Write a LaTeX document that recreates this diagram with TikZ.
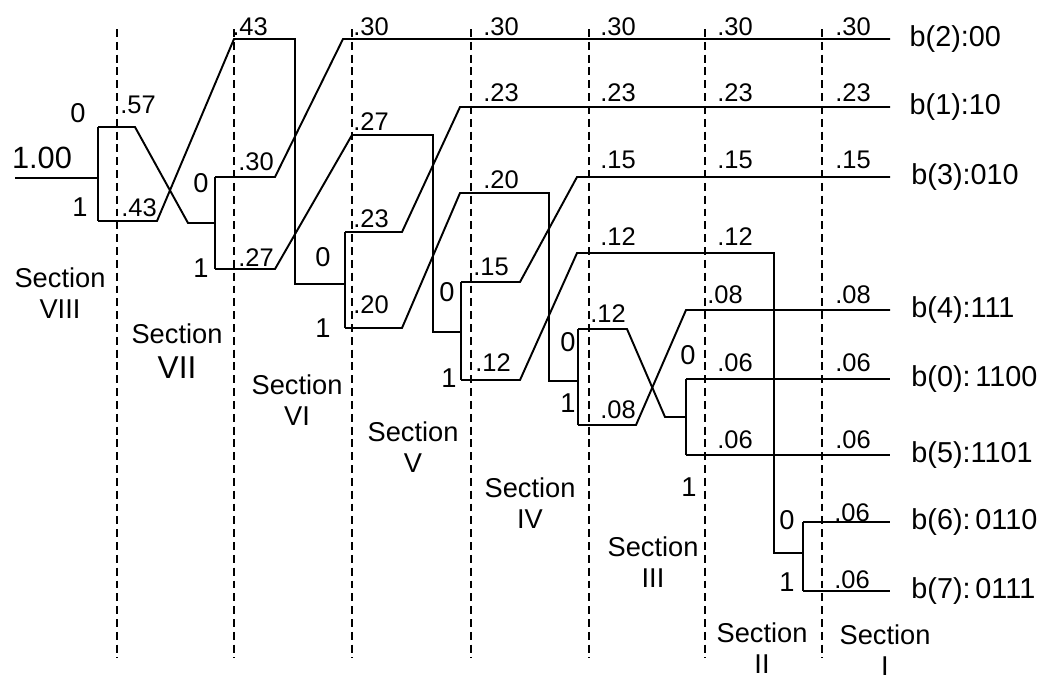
\documentclass[tikz,border=0pt]{standalone}
\usepackage{fontspec}
\setmainfont{Liberation Sans}
\usetikzlibrary{positioning}

\begin{document}
\begin{tikzpicture}[
    x=0.02cm, y=-0.02cm,
    tree/.style={line width=1.1pt, line join=miter},
    sect/.style={line width=0.8pt, dash pattern=on 4.5pt off 2.8pt},
    val/.style={anchor=west, inner sep=0pt, font=\fontsize{14.5}{16}\selectfont},
    bit/.style={inner sep=0pt, font=\fontsize{15.5}{17}\selectfont},
    code/.style={inner sep=0pt, font=\fontsize{16.4}{18}\selectfont},
    secname/.style={align=center, inner sep=0pt, font=\fontsize{15.5}{17.5}\selectfont}
]
\useasboundingbox (0,0) rectangle (1050,684);

% section borders
\foreach \x in {117,234,352,471,589,705,822}
    \draw[sect] (\x,29) -- (\x,658);

% junctions
\coordinate (in) at (15,178);
\coordinate (j8) at (98,178);  \coordinate (j8u) at (98,127);  \coordinate (j8d) at (98,221);
\coordinate (ja) at (215,223); \coordinate (jau) at (215,177); \coordinate (jad) at (215,269);
\coordinate (jb) at (345,284); \coordinate (jbu) at (345,232); \coordinate (jbd) at (345,328);
\coordinate (jd) at (461,332); \coordinate (jdu) at (461,282); \coordinate (jdd) at (461,380);
\coordinate (je) at (578,381); \coordinate (jeu) at (578,329); \coordinate (jed) at (578,425);
\coordinate (jf) at (686,417); \coordinate (jfu) at (686,379); \coordinate (jfd) at (686,455);
\coordinate (jg) at (803,553); \coordinate (jgu) at (803,522); \coordinate (jgd) at (803,591);

% outputs
\coordinate (o2) at (890,39);
\coordinate (o1) at (890,107);
\coordinate (o3) at (890,177);
\coordinate (o4) at (890,310);
\coordinate (o0) at (890,379);
\coordinate (o5) at (890,455);
\coordinate (o6) at (890,522);
\coordinate (o7) at (890,591);

% Section VIII
\draw[tree] (in) -- (j8);
\draw[tree] (j8u) -- (j8d);
\draw[tree] (j8u) -- (135,127) -- (188,223) -- (ja);
\draw[tree] (j8d) -- (157,221) -- (234,39) -- (295,39) -- (295,284) -- (jb);
% Section VII
\draw[tree] (jau) -- (jad);
\draw[tree] (jau) -- (275,177) -- (343,39) -- (o2);
\draw[tree] (jad) -- (275,269) -- (352,135) -- (433,135) -- (433,332) -- (jd);
% Section VI
\draw[tree] (jbu) -- (jbd);
\draw[tree] (jbu) -- (402,232) -- (460,107) -- (o1);
\draw[tree] (jbd) -- (402,328) -- (460,193) -- (549,193) -- (549,381) -- (je);
% Section V
\draw[tree] (jdu) -- (jdd);
\draw[tree] (jdu) -- (520,282) -- (577,177) -- (o3);
\draw[tree] (jdd) -- (520,380) -- (577,253) -- (774,253) -- (774,553) -- (jg);
% Section IV
\draw[tree] (jeu) -- (jed);
\draw[tree] (jeu) -- (627,329) -- (665,417) -- (jf);
\draw[tree] (jed) -- (636,425) -- (686,310) -- (o4);
% Section III
\draw[tree] (jfu) -- (jfd);
\draw[tree] (jfu) -- (o0);
\draw[tree] (jfd) -- (o5);
% Section II
\draw[tree] (jgu) -- (jgd);
\draw[tree] (jgu) -- (o6);
\draw[tree] (jgd) -- (o7);

% probabilities
\node[inner sep=0pt, font=\fontsize{17.5}{19}\selectfont] (total) at (42,158) {1.00};
\foreach \x/\y/\t [count=\i] in {
    120/105/.57, 121/208/.43,
    232/27/.43, 238/162/.30, 238/258/.27,
    353/27/.30, 353/122/.27, 353/219/.23, 353/305/.20,
    483/27/.30, 483/93/.23, 483/180/.20, 473/267/.15, 475/363/.12,
    600/27/.30, 600/93/.23, 600/160/.15, 600/237/.12, 590/314/.12, 600/410/.08,
    717/27/.30, 717/93/.23, 717/160/.15, 717/237/.12, 707/295/.08, 717/363/.06, 717/440/.06,
    835/27/.30, 835/93/.23, 835/160/.15, 835/295/.08, 835/363/.06, 835/440/.06, 834/513/.06, 834/580/.06}
    \node[val] (p\i) at (\x,\y) {\t};

% branch bits
\foreach \x/\y/\t [count=\i] in {
    78/113/0, 80/207/1, 201/183/0, 201/268/1, 323/257/0, 323/328/1,
    447/292/0, 449/378/1, 568/342/0, 568/403/1, 688/355/0, 689/487/1,
    787/520/0, 787/582/1}
    \node[bit] (bit\i) at (\x,\y) {\t};

% codewords
\node[code, right=11pt of o2] (c2) {b(2):00};
\node[code, right=11pt of o1] (c1) {b(1):10};
\node[code, right=12pt of o3] (c3) {b(3):010};
\node[code, right=12pt of o4] (c4) {b(4):111};
\node[code, right=12pt of o0] (c0) {b(0):\,1100};
\node[code, right=12pt of o5] (c5) {b(5):1101};
\node[code, right=12pt of o6] (c6) {b(6):\,0110};
\node[code, right=12pt of o7] (c7) {b(7):\,0111};

% section names
\node[secname] (sec8) at (60,293) {Section\\VIII};
\node[secname] (sec7) at (177,351) {Section\\[2pt]{\fontsize{18}{20}\selectfont VII}};
\node[secname] (sec6) at (297,400) {Section\\VI};
\node[secname] (sec5) at (413,447) {Section\\V};
\node[secname] (sec4) at (530,503) {Section\\IV};
\node[secname] (sec3) at (653,562) {Section\\III};
\node[secname] (sec2) at (762,648) {Section\\II};
\node[secname] (sec1) at (885,650) {Section\\I};
\end{tikzpicture}
\end{document}
